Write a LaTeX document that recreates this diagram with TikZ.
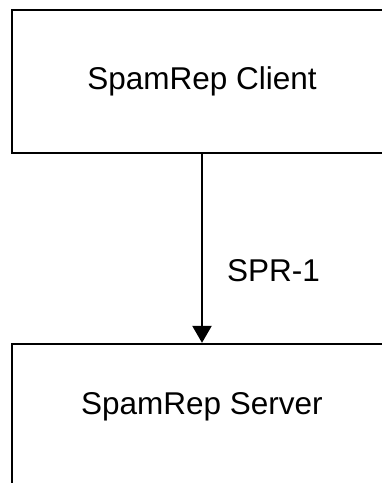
\documentclass[tikz,border=0pt]{standalone}
\usepackage{fontspec}
\setmainfont{Liberation Sans}
\usetikzlibrary{arrows.meta}
\begin{document}
\begin{tikzpicture}[x=1pt,y=-1pt,
  box/.style={draw, line width=2.3pt, rectangle, minimum width=380pt, inner sep=0pt},
  lbl/.style={font=\fontsize{31.5}{36}\selectfont, inner sep=0pt},
  conn/.style={line width=2.3pt, -{Triangle[length=17pt,width=19pt]}}]
\useasboundingbox (0,0) rectangle (382,483);
\clip (0,0) rectangle (382,483);
\node[box, minimum height=143pt] (client) at (202,81.5) {};
\node[lbl, anchor=base] (clientlbl) at (202,89.5) {SpamRep Client};
\node[box, minimum height=200pt] (server) at (202,444) {};
\node[lbl, anchor=base] (serverlbl) at (202,414) {SpamRep Server};
\draw[conn] (client.south) -- node[lbl, pos=0.62, right=24pt] (proto) {SPR-1} (server.north);
\end{tikzpicture}
\end{document}
